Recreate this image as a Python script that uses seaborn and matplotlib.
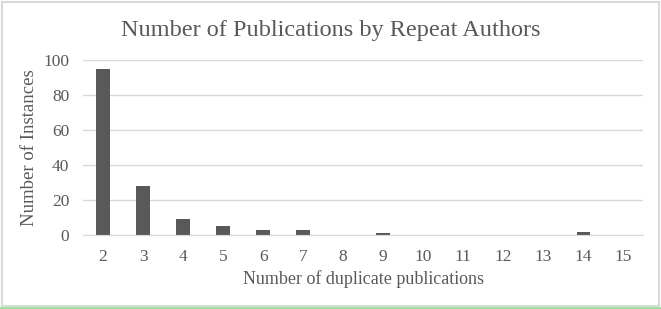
import pandas as pd
import matplotlib.pyplot as plt
import seaborn as sns
from matplotlib.patches import Rectangle

# data
dup_pubs = [2, 3, 4, 5, 6, 7, 8, 9, 10, 11, 12, 13, 14, 15]
instances = [95, 28, 9, 5, 3, 3, 0, 1, 0, 0, 0, 0, 2, 0]

df = pd.DataFrame({"pubs": [str(p) for p in dup_pubs], "count": instances})

sns.set_style("white")
plt.rcParams['font.family'] = ['Liberation Serif', 'DejaVu Serif']

text_col = "#595959"
fig = plt.figure(figsize=(6.61, 3.09), dpi=100)
ax = fig.add_axes([0.1256, 0.239, 0.8474, 0.567])

sns.barplot(data=df, x="pubs", y="count", color="#595959", width=0.33,
            saturation=1, edgecolor="none", linewidth=0, ax=ax)

ax.set_ylim(0, 100)
ax.set_xlim(-0.5, len(dup_pubs) - 0.5)
ax.set_yticks([0, 20, 40, 60, 80, 100])
ax.yaxis.grid(True, color="#d9d9d9", linewidth=1)
ax.set_axisbelow(True)
for s in ["top", "right", "left"]:
    ax.spines[s].set_visible(False)
ax.spines["bottom"].set_color("#d9d9d9")
ax.tick_params(axis="both", length=0, labelsize=12.5, colors=text_col, pad=10)

ax.set_xlabel("Number of duplicate publications", fontsize=13, color=text_col, labelpad=4)
ax.set_ylabel("Number of Instances", fontsize=13.5, color=text_col)
ax.yaxis.set_label_coords(-0.08, 0.5)
fig.suptitle("Number of Publications by Repeat Authors", fontsize=17.5,
             color=text_col, y=0.935)

# chart frame like the original
fig.patches.append(Rectangle((0.003, 0.01), 0.994, 0.985, transform=fig.transFigure,
                             fill=False, edgecolor="#d9d9d9", linewidth=1.5))
fig.patches.append(Rectangle((0, 0.0), 1, 0.008, transform=fig.transFigure,
                             facecolor="#90ee90", edgecolor="none"))

fig.savefig("out.png", dpi=100, facecolor="white")
